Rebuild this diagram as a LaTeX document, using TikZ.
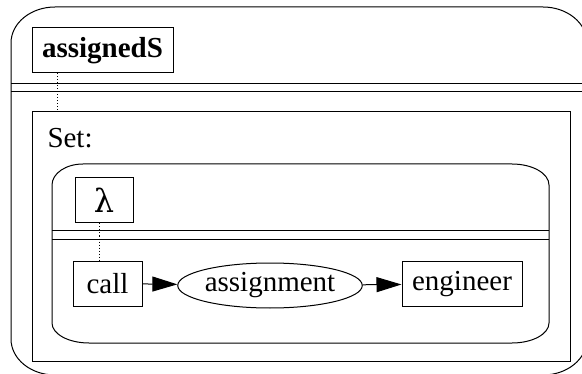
\documentclass[tikz,border=0pt]{standalone}
\usepackage{fontspec}
\setmainfont{Liberation Serif}
\newfontfamily\greekfont{DejaVu Serif}
\usetikzlibrary{arrows.meta,shapes.geometric}
\begin{document}
\begin{tikzpicture}[x=1pt,y=1pt,line width=1pt,
  lbl/.style={font=\fontsize{29}{34}\selectfont},
  boxnode/.style={draw,lbl,inner sep=0pt,minimum height=45pt},
  ovalnode/.style={draw,ellipse,lbl,inner sep=0pt,minimum width=166pt,minimum height=45pt},
  link/.style={dash pattern=on 1pt off 2pt,line width=1pt},
  flow/.style={-{Triangle[length=25pt,width=15pt]}}]
\useasboundingbox (0,0) rectangle (582,373);
\clip (0,0) rectangle (582,373);

% outer context frame with its double separator
\draw (55,366) -- (543,366)
  arc[start angle=90,end angle=0,x radius=44,y radius=36] -- (587,34)
  arc[start angle=0,end angle=-90,x radius=44,y radius=36] -- (55,-2)
  arc[start angle=270,end angle=180,x radius=44,y radius=36] -- (11,330)
  arc[start angle=180,end angle=90,x radius=44,y radius=36] -- cycle;
\draw (11,289) -- (587,289);
\draw (11,281) -- (587,281);

\node[boxnode,font=\bfseries\fontsize{29}{34}\selectfont,minimum width=141pt] (title) at (102.5,322.5) {assignedS};

% set frame
\draw (32,261) rectangle (570,12);
\coordinate (settop) at (57,261);
\node[lbl,anchor=base west,inner sep=0pt] (setlbl) at (47,225) {Set:};

% lambda context frame
\draw (83,209) -- (512,209)
  arc[start angle=90,end angle=0,x radius=37,y radius=21] -- (549,50)
  arc[start angle=0,end angle=-90,x radius=37,y radius=20] -- (89,30)
  arc[start angle=270,end angle=180,x radius=37,y radius=20] -- (52,188)
  arc[start angle=180,end angle=90,x radius=31,y radius=21] -- cycle;
\draw (52,142) -- (549,142);
\draw (52,134) -- (549,134);

\node[boxnode,font=\greekfont\fontsize{32}{36}\selectfont,minimum width=58pt] (lam) at (104,172.5) {λ};

\node[boxnode,minimum width=69pt] (call) at (107.5,89.5) {call};
\node[ovalnode] (assign) at (270,87.5) {assignment};
\node[boxnode,minimum width=120pt] (eng) at (462,89) {engineer};

\draw[link] (title.south -| settop) -- (settop);
\draw[link] (lam.south -| 99,0) -- (call.north -| 99,0);

\draw[flow] (call) -- (assign);
\draw[flow] (assign) -- (eng);
\end{tikzpicture}
\end{document}
